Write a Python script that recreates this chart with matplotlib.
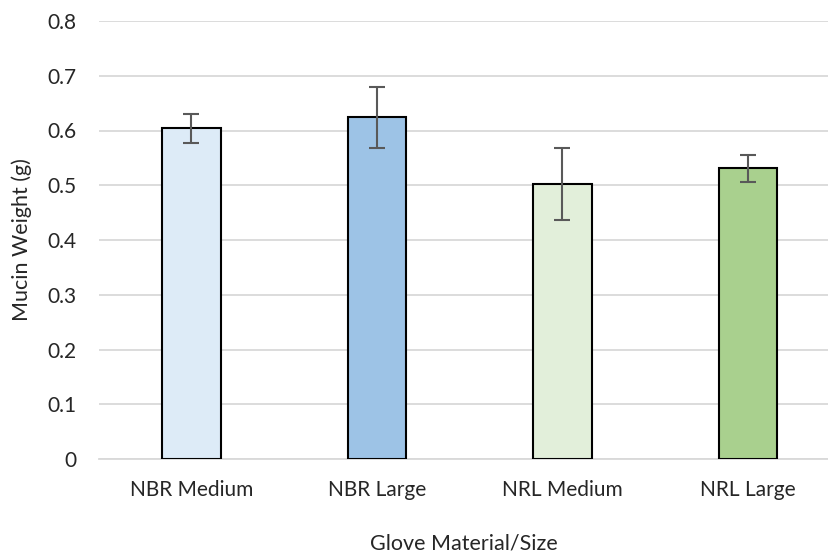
import numpy as np
import matplotlib.pyplot as plt

categories = ["NBR Medium", "NBR Large", "NRL Medium", "NRL Large"]
mean_weight = [0.604, 0.624, 0.502, 0.531]
sd_weight = [0.026, 0.056, 0.066, 0.025]
bar_colors = ["#DDEBF7", "#9DC3E6", "#E2EFDA", "#A9D08E"]
y_ticks = [0, 0.1, 0.2, 0.3, 0.4, 0.5, 0.6, 0.7, 0.8]
y_tick_labels = ["0", "0.1", "0.2", "0.3", "0.4", "0.5", "0.6", "0.7", "0.8"]


def main():
    plt.rcParams['font.family'] = ['Lato', 'DejaVu Sans']
    fig = plt.figure(figsize=(8.29, 5.56), dpi=100)
    ax = fig.add_axes([99 / 829, 97 / 556, 730 / 829, 438 / 556])

    x = np.arange(len(categories))
    ax.bar(x, mean_weight, width=0.315, color=bar_colors,
           edgecolor="black", linewidth=1.5, zorder=3)
    ax.errorbar(x, mean_weight, yerr=sd_weight, fmt="none",
                ecolor="#595959", elinewidth=1.5, capsize=6, capthick=1.5,
                zorder=4)

    ax.set_xlim(-0.4987, 3.437)
    ax.set_ylim(0, 0.8)
    ax.set_yticks(y_ticks)
    ax.set_yticklabels(y_tick_labels)
    ax.set_xticks(x)
    ax.set_xticklabels(categories)
    ax.grid(axis="y", color="#d9d9d9", linewidth=1.3, zorder=0)
    ax.set_axisbelow(True)
    for side in ["top", "right", "left"]:
        ax.spines[side].set_visible(False)
    ax.spines["bottom"].set_color("#d9d9d9")
    ax.spines["bottom"].set_linewidth(1.3)
    ax.tick_params(axis="both", length=0, labelsize=15, colors="#262626")
    ax.tick_params(axis="y", pad=16)
    ax.tick_params(axis="x", pad=15)

    fig.text(464 / 829, 1 - 543 / 556, "Glove Material/Size", ha="center",
             va="center", fontsize=15.5, color="#262626")
    fig.text(22 / 829, 1 - 240 / 556, "Mucin Weight (g)", ha="center",
             va="center", rotation=90, fontsize=15.5, color="#262626")

    fig.savefig("out.png", dpi=100)


if __name__ == "__main__":
    main()
